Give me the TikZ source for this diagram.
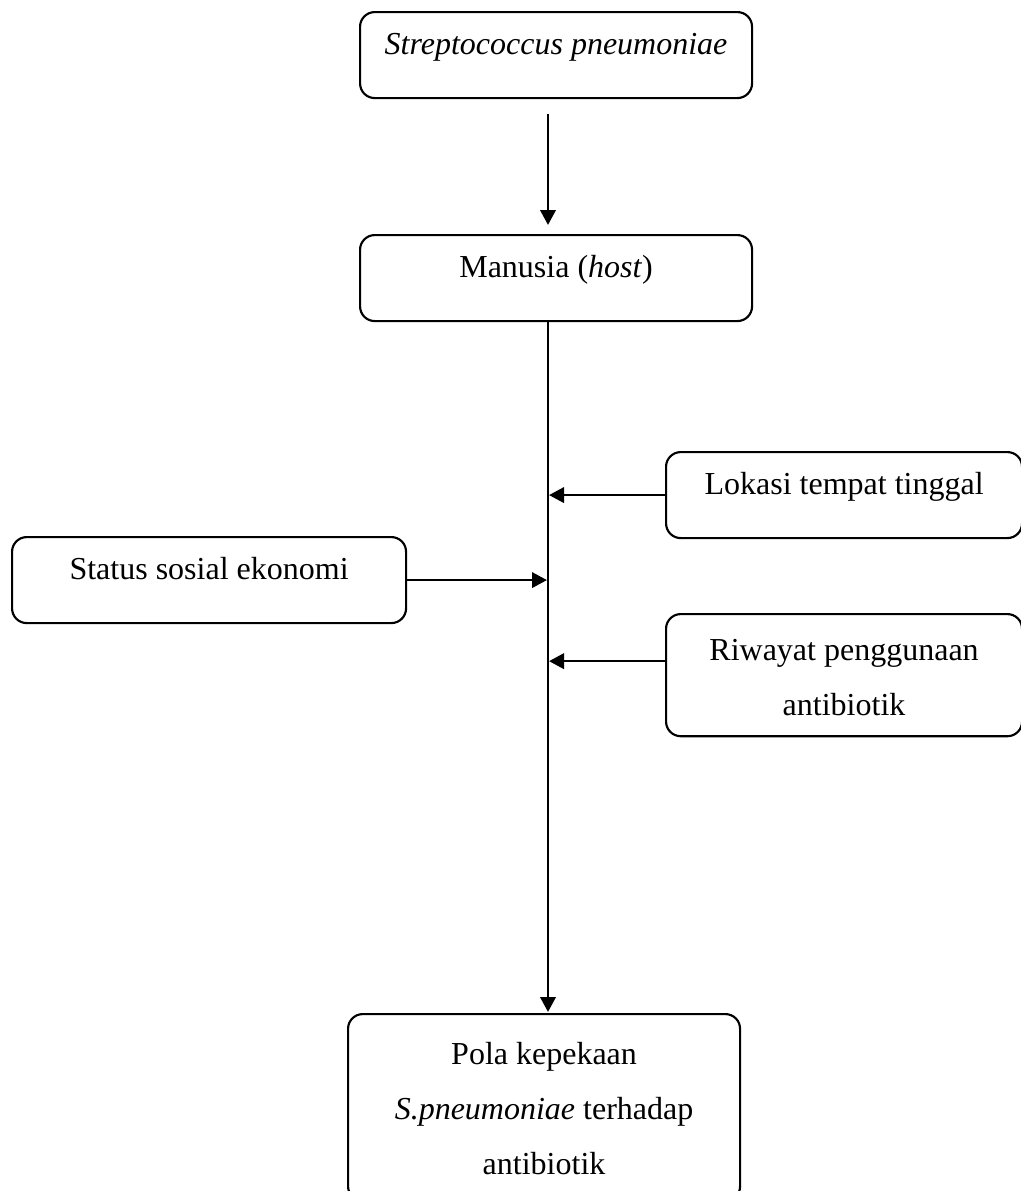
\documentclass[tikz,border=0pt]{standalone}
\usepackage{fontspec}
\setmainfont{Liberation Serif}
\usepackage{tikz}
\usetikzlibrary{
    positioning,
    calc,
    arrows.meta
}
\tikzset{
  basic/.style = {
      draw,
      rounded corners=5.5pt,
      line width=0.8pt,
      inner sep=0pt,
      align=center,
      anchor=north west,
      font=\fontsize{12}{20.5}\selectfont
  },
  single/.style = {
      basic,
      text height=16pt,
      text depth=16.25pt
  },
  wide/.style = {
      minimum width=147pt
  },
  narrow/.style = {
      minimum width=133.5pt
  },
  edge/.style = {
      line width=0.85pt,
      -{Triangle[length=5.6pt,width=5.8pt]}
  }
}

\begin{document}
\begin{tikzpicture}[x=0.375pt, y=-0.375pt]
        \useasboundingbox (0,0) rectangle (1021,1191);
        \clip (0,0) rectangle (1021,1191);
        \coordinate (spine) at (548,0);
        \node[single, wide] (strep) at (359,11) {\textit{Streptococcus pneumoniae}};
        \node[single, wide] (host) at (359,234) {Manusia (\textit{host})};
        \node[single, narrow] (lokasi) at (665,451) {Lokasi tempat tinggal};
        \node[single, minimum width=147.75pt] (status) at (11,536) {Status sosial ekonomi};
        \node[basic, narrow, text height=37.9pt, text depth=7.9pt] (riwayat) at (665,613) {Riwayat penggunaan\\antibiotik};
        \node[basic, wide, text height=60pt, text depth=10.1pt] (pola) at (347,1013) {Pola kepekaan\\\textit{S.pneumoniae} terhadap\\antibiotik};
        % Edges
        \draw[edge, shorten <=5.6pt, shorten >=3.4pt] (strep.south -| spine) -- (host.north -| spine);
        \draw[edge, shorten >=0.4pt] (host.south -| spine) -- (pola.north -| spine);
        \draw[edge, shorten >=0.4pt] (lokasi.west) -- (lokasi.west -| spine);
        \draw[edge, shorten >=0.4pt] (status.east) -- (status.east -| spine);
        \draw[edge, shorten >=0.4pt] ([yshift=5.25pt]riwayat.west) -- ([yshift=5.25pt]riwayat.west -| spine);
    \end{tikzpicture}
\end{document}
